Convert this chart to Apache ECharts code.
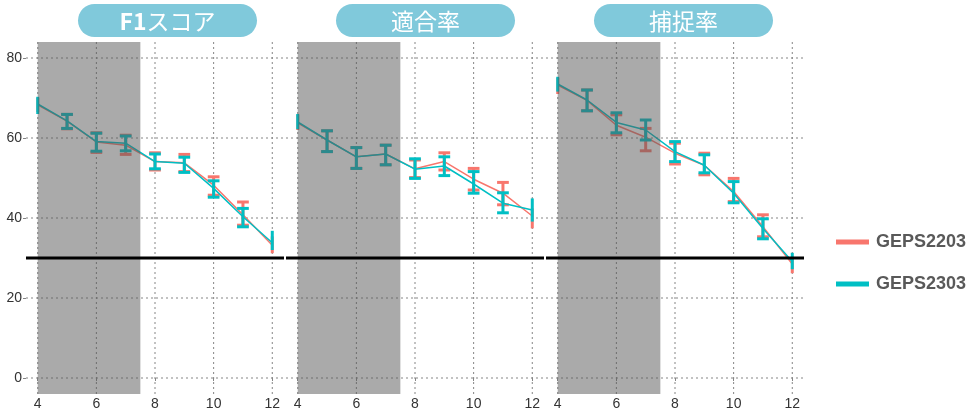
<!DOCTYPE html>
<html>
<head>
<meta charset="utf-8">
<script src="https://cdn.jsdelivr.net/npm/echarts@6/dist/echarts.min.js"></script>
<style>
  html, body { margin: 0; padding: 0; background: #fff; }
  #chart { width: 971px; height: 414px; }
</style>
</head>
<body>
<div id="chart"></div>
<script>
// Lead time (x) and tick values
const leadTimes = [4, 5, 6, 7, 8, 9, 10, 11, 12];
const xTicks = [4, 6, 8, 10, 12];
const yTicks = [0, 20, 40, 60, 80];
const panelTitles = ['F1スコア', '適合率', '捕捉率'];
const seriesNames = ['GEPS2203', 'GEPS2303'];
const shadeRange = [4, 7.5];
const thresholdValue = 30;

// F1 score
const f1Mean2203 = [68.3, 64.2, 59.0, 58.2, 54.1, 53.8, 48.2, 40.8, 33.2];
const f1Low2203  = [66.5, 62.3, 56.4, 55.9, 52.0, 51.6, 45.7, 38.2, 31.2];
const f1High2203 = [70.0, 65.9, 61.3, 60.7, 56.3, 55.9, 50.3, 44.0, 35.4];
const f1Mean2303 = [68.5, 64.3, 59.1, 58.7, 54.1, 53.7, 47.4, 40.3, 33.8];
const f1Low2303  = [66.0, 62.4, 56.7, 56.8, 52.3, 51.4, 45.2, 37.8, 32.0];
const f1High2303 = [70.3, 65.9, 61.2, 60.5, 56.0, 55.2, 49.3, 42.4, 36.8];

// Precision
const precMean2203 = [63.8, 59.5, 55.3, 56.0, 52.3, 54.1, 49.7, 46.2, 40.5];
const precLow2203  = [62.0, 56.6, 52.4, 53.3, 50.1, 52.0, 47.0, 43.3, 37.4];
const precHigh2203 = [65.8, 61.8, 57.6, 58.2, 54.5, 56.3, 52.4, 48.9, 42.4];
const precMean2303 = [64.0, 59.5, 55.3, 56.0, 52.2, 53.0, 48.5, 43.7, 42.0];
const precLow2303  = [62.2, 56.6, 52.4, 53.3, 49.9, 50.6, 46.2, 41.3, 39.1];
const precHigh2303 = [66.0, 61.8, 57.6, 58.2, 54.8, 55.3, 51.6, 46.3, 44.9];

// Recall
const recMean2203 = [73.2, 69.4, 63.2, 60.2, 56.2, 53.2, 46.6, 37.8, 28.5];
const recLow2203  = [71.0, 66.8, 60.8, 56.8, 53.5, 50.8, 44.1, 35.3, 26.2];
const recHigh2203 = [75.0, 72.0, 65.8, 62.4, 58.7, 56.2, 49.9, 40.8, 30.3];
const recMean2303 = [73.5, 69.5, 63.9, 62.0, 56.6, 53.2, 46.2, 37.4, 29.1];
const recLow2303  = [71.6, 66.8, 61.3, 59.5, 54.1, 51.3, 43.8, 34.8, 27.2];
const recHigh2303 = [75.3, 72.0, 66.3, 64.5, 59.1, 55.8, 49.1, 39.8, 31.3];

const panels = [
  [[f1Mean2203, f1Low2203, f1High2203], [f1Mean2303, f1Low2303, f1High2303]],
  [[precMean2203, precLow2203, precHigh2203], [precMean2303, precLow2303, precHigh2303]],
  [[recMean2203, recLow2203, recHigh2203], [recMean2303, recLow2303, recHigh2303]]
];

const colors = ['#F8766D', '#00BFC4'];
const font = '"Liberation Sans", Arial, sans-serif';
const capHalf = 0.2;

const xSpan = xTicks[xTicks.length - 1] - xTicks[0];
const ySpan = yTicks[yTicks.length - 1] - yTicks[0];
const xMin = xTicks[0] - 0.05 * xSpan, xMax = xTicks[xTicks.length - 1] + 0.05 * xSpan;
const yMin = yTicks[0] - 0.05 * ySpan, yMax = yTicks[yTicks.length - 1] + 0.05 * ySpan;

const gridBoxes = [
  { left: 26, top: 42, width: 258, height: 352 },
  { left: 286, top: 42, width: 258, height: 352 },
  { left: 546, top: 42, width: 258, height: 352 }
];

function renderGridLines(params, api) {
  const cs = params.coordSys;
  const children = [];
  const style = { stroke: '#858585', lineWidth: 1, lineDash: [2, 3] };
  xTicks.forEach(v => {
    const px = api.coord([v, 0])[0];
    children.push({ type: 'line', shape: { x1: px, y1: cs.y, x2: px, y2: cs.y + cs.height }, style });
  });
  yTicks.forEach(v => {
    const py = api.coord([xTicks[0], v])[1];
    children.push({ type: 'line', shape: { x1: cs.x, y1: py, x2: cs.x + cs.width, y2: py }, style });
  });
  return { type: 'group', children };
}

function renderErrorBar(params, api) {
  const x = api.value(0), lo = api.value(1), hi = api.value(2);
  const color = api.visual('color');
  const top = api.coord([x, hi]);
  const bot = api.coord([x, lo]);
  const st = { stroke: color, lineWidth: 3 };
  const children = [
    { type: 'line', shape: { x1: top[0], y1: top[1], x2: bot[0], y2: bot[1] }, style: st }
  ];
  if (x - capHalf >= xTicks[0] && x + capHalf <= xTicks[xTicks.length - 1]) {
    const l = api.coord([x - capHalf, hi])[0];
    const r = api.coord([x + capHalf, hi])[0];
    children.push({ type: 'line', shape: { x1: l, y1: top[1], x2: r, y2: top[1] }, style: st });
    children.push({ type: 'line', shape: { x1: l, y1: bot[1], x2: r, y2: bot[1] }, style: st });
  }
  return { type: 'group', children };
}

function renderShade(params, api) {
  const cs = params.coordSys;
  const a = api.coord([api.value(0), 0])[0];
  const b = api.coord([api.value(1), 0])[0];
  return {
    type: 'rect',
    shape: { x: a, y: cs.y, width: b - a, height: cs.height },
    style: { fill: 'rgba(85,85,85,0.5)' }
  };
}

function renderThreshold(params, api) {
  const cs = params.coordSys;
  const py = api.coord([xTicks[0], api.value(0)])[1];
  return {
    type: 'line',
    shape: { x1: cs.x, y1: py, x2: cs.x + cs.width, y2: py },
    style: { stroke: '#000', lineWidth: 3 }
  };
}

const grid = [], xAxis = [], yAxis = [], series = [];
panels.forEach((panel, gi) => {
  grid.push(gridBoxes[gi]);
  xAxis.push({
    type: 'value', gridIndex: gi, min: xMin, max: xMax,
    axisLine: { show: false },
    splitLine: { show: false },
    axisTick: { show: true, customValues: xTicks, length: 3, lineStyle: { color: '#858585' } },
    axisLabel: { customValues: xTicks, color: '#333', fontSize: 14, fontFamily: font, margin: 3 }
  });
  yAxis.push({
    type: 'value', gridIndex: gi, min: yMin, max: yMax,
    axisLine: { show: false },
    splitLine: { show: false },
    axisTick: { show: gi === 0, customValues: yTicks, length: 3, lineStyle: { color: '#858585' } },
    axisLabel: { show: gi === 0, customValues: yTicks, color: '#333', fontSize: 14, fontFamily: font, margin: 4 }
  });
  series.push({
    type: 'custom', xAxisIndex: gi, yAxisIndex: gi, z: 1, silent: true,
    renderItem: renderGridLines, data: [[0]]
  });
  panel.forEach((s, si) => {
    const [mean, low, high] = s;
    series.push({
      type: 'line', name: seriesNames[si], xAxisIndex: gi, yAxisIndex: gi, z: 2 + si,
      data: leadTimes.map((x, i) => [x, mean[i]]),
      symbol: 'none', color: colors[si],
      lineStyle: { width: 1.5, color: colors[si] },
      itemStyle: { color: colors[si] }
    });
    series.push({
      type: 'custom', name: seriesNames[si], xAxisIndex: gi, yAxisIndex: gi, z: 2 + si,
      renderItem: renderErrorBar, itemStyle: { color: colors[si] },
      encode: { x: 0, y: [1, 2] },
      data: leadTimes.map((x, i) => [x, low[i], high[i]])
    });
  });
  series.push({
    type: 'custom', xAxisIndex: gi, yAxisIndex: gi, z: 6, silent: true,
    renderItem: renderShade, data: [shadeRange]
  });
  series.push({
    type: 'custom', xAxisIndex: gi, yAxisIndex: gi, z: 7, silent: true,
    renderItem: renderThreshold, data: [[thresholdValue]]
  });
});

// Panel header pills
const stripBoxes = [
  { x: 78, y: 4, w: 179, h: 33 },
  { x: 336, y: 4, w: 179, h: 33 },
  { x: 594, y: 4, w: 179, h: 33 }
];
const graphic = [];
panelTitles.forEach((t, i) => {
  const b = stripBoxes[i];
  graphic.push({
    type: 'rect', left: b.x, top: b.y,
    shape: { width: b.w, height: b.h, r: b.h / 2 },
    style: { fill: '#80c9db' }, z: 10
  });
  const m = t.match(/^([A-Za-z0-9]+)(.*)$/);
  graphic.push({
    type: 'text', x: b.x + b.w / 2, y: b.y + b.h / 2 + 1, z: 11,
    style: {
      text: m ? '{b|' + m[1] + '}{n|' + m[2] + '}' : '{n|' + t + '}',
      align: 'center', verticalAlign: 'middle',
      rich: {
        b: { fill: '#fff', fontSize: 23, fontWeight: 'bold', fontFamily: '"Noto Sans CJK JP", sans-serif' },
        n: { fill: '#fff', fontSize: 23, fontWeight: 'normal', fontFamily: '"Noto Sans CJK JP", sans-serif' }
      }
    }
  });
});

const chart = echarts.init(document.getElementById('chart'));
chart.setOption({
  animation: false,
  backgroundColor: '#fff',
  grid, xAxis, yAxis, series, graphic,
  legend: {
    orient: 'vertical', left: 831, top: 228,
    itemWidth: 33, itemHeight: 5, itemGap: 24,
    data: seriesNames.map(n => ({ name: n, icon: 'rect' })),
    textStyle: { color: '#595959', fontSize: 18, fontWeight: 'bold', fontFamily: font, padding: [0, 0, 0, 2] }
  }
});
</script>
</body>
</html>
